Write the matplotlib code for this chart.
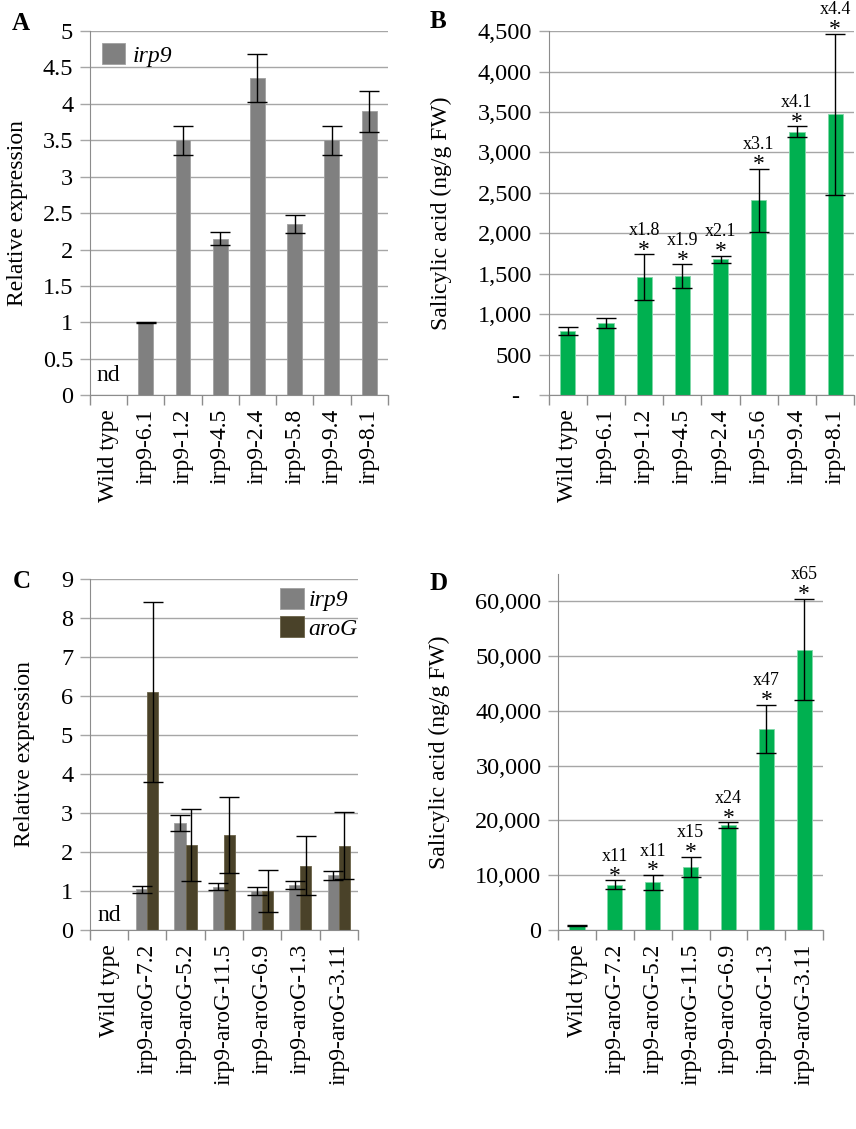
import matplotlib
matplotlib.use('Agg')
import matplotlib.pyplot as plt
from matplotlib.ticker import FuncFormatter
import numpy as np

plt.rcParams['font.family'] = 'serif'
plt.rcParams['font.serif'] = ['Liberation Serif', 'DejaVu Serif']
plt.rcParams['font.size'] = 16.5

# panel A - irp9 expression
lines_a = ['Wild type', 'irp9-6.1', 'irp9-1.2', 'irp9-4.5', 'irp9-2.4', 'irp9-5.8', 'irp9-9.4', 'irp9-8.1']
irp9_a = [np.nan, 1.0, 3.5, 2.15, 4.35, 2.35, 3.5, 3.9]
irp9_a_err = [np.nan, 0.01, 0.2, 0.09, 0.33, 0.13, 0.2, 0.28]

# panel B - salicylic acid
lines_b = ['Wild type', 'irp9-6.1', 'irp9-1.2', 'irp9-4.5', 'irp9-2.4', 'irp9-5.6', 'irp9-9.4', 'irp9-8.1']
sa_b = [790, 890, 1460, 1470, 1680, 2410, 3255, 3470]
sa_b_err = [50, 60, 280, 145, 43, 390, 68, 995]
fold_b = ['', '', 'x1.8', 'x1.9', 'x2.1', 'x3.1', 'x4.1', 'x4.4']

# panel C - irp9 and aroG expression
lines_c = ['Wild type', 'irp9-aroG-7.2', 'irp9-aroG-5.2', 'irp9-aroG-11.5', 'irp9-aroG-6.9', 'irp9-aroG-1.3', 'irp9-aroG-3.11']
irp9_c = [np.nan, 1.04, 2.74, 1.11, 0.99, 1.16, 1.40]
irp9_c_err = [np.nan, 0.09, 0.21, 0.09, 0.1, 0.1, 0.12]
arog_c = [np.nan, 6.1, 2.18, 2.44, 1.0, 1.65, 2.16]
arog_c_err = [np.nan, 2.3, 0.92, 0.98, 0.53, 0.75, 0.86]

# panel D - salicylic acid
sa_d = [790, 8250, 8680, 11550, 19150, 36700, 51200]
sa_d_err = [100, 850, 1350, 1800, 500, 4400, 9300]
fold_d = ['', 'x11', 'x11', 'x15', 'x24', 'x47', 'x65']

grey = '#808080'
olive = '#4a4229'
green = '#00b050'
gridc = '#a6a6a6'
spinec = '#8c8c8c'


def style(ax, labels):
    n = len(labels)
    ax.set_xlim(-0.5, n - 0.5)
    ax.set_xticks(range(n))
    ax.set_xticklabels(labels, rotation=90)
    ax.set_xticks(np.arange(-0.5, n), minor=True)
    ax.tick_params(axis='x', which='major', length=0, pad=10, labelsize=17)
    ax.tick_params(axis='x', which='minor', length=7, color=spinec, width=1)
    ax.tick_params(axis='y', length=7, color=gridc, width=1, pad=5, labelsize=17.5)
    ax.yaxis.grid(True, color=gridc, lw=1)
    ax.set_axisbelow(True)
    for s in ['top', 'right']:
        ax.spines[s].set_visible(False)
    ax.spines['left'].set_color(spinec)
    ax.spines['bottom'].set_color(spinec)


def stars(ax, means, errs, folds):
    for i, (m, e, f) in enumerate(zip(means, errs, folds)):
        if f == '':
            continue
        ax.annotate('*', xy=(i, m + e), xytext=(0, -1), textcoords='offset points',
                    ha='center', va='baseline', fontsize=17, annotation_clip=False)
        ax.annotate(f, xy=(i, m + e), xytext=(0, 14), textcoords='offset points',
                    ha='center', va='baseline', fontsize=13, annotation_clip=False)


fig = plt.figure(figsize=(8.56, 11.29), dpi=100)
leg_font = {'family': 'serif', 'style': 'italic', 'size': 17}

# A
ax = fig.add_axes([0.105, 0.650, 0.348, 0.3225])
x = np.arange(len(lines_a))
ax.bar(x, irp9_a, 0.4, color=grey, edgecolor='#a0a0a0', lw=0.6, label='irp9')
ax.errorbar(x, irp9_a, yerr=irp9_a_err, fmt='none', ecolor='black', elinewidth=1, capsize=7)
ax.set_ylim(0, 5)
ax.set_yticks(np.arange(0, 5.01, 0.5))
ax.yaxis.set_major_formatter(FuncFormatter(lambda v, p: f'{v:g}'))
style(ax, lines_a)
ax.set_ylabel('Relative expression', fontsize=17)
ax.yaxis.set_label_coords(-0.208, 0.5)
ax.text(0, 0.12, 'nd', ha='center', va='bottom', fontsize=17)
ax.legend(loc='upper left', frameon=False, prop=leg_font, borderpad=0.2,
          handlelength=1.0, handleheight=1.0, handletextpad=0.3, borderaxespad=0.3)

# B
ax = fig.add_axes([0.641, 0.650, 0.357, 0.3225])
x = np.arange(len(lines_b))
ax.bar(x, sa_b, 0.4, color=green, edgecolor='#80d8a8', lw=0.6)
ax.errorbar(x, sa_b, yerr=sa_b_err, fmt='none', ecolor='black', elinewidth=1, capsize=7)
ax.set_ylim(0, 4500)
ax.set_yticks(np.arange(0, 4501, 500))
ax.yaxis.set_major_formatter(FuncFormatter(lambda v, p: '-  ' if v == 0 else f'{v:,.0f}'))
style(ax, lines_b)
ax.set_ylabel('Salicylic acid (ng/g FW)', fontsize=17)
ax.yaxis.set_label_coords(-0.317, 0.5)
stars(ax, sa_b, sa_b_err, fold_b)

# C
ax = fig.add_axes([0.105, 0.1763, 0.313, 0.3109])
x = np.arange(len(lines_c))
w = 0.29
ax.bar(x - w / 2, irp9_c, w, color=grey, edgecolor='#a0a0a0', lw=0.6, label='irp9')
ax.bar(x + w / 2, arog_c, w, color=olive, edgecolor='#6a6248', lw=0.6, label='aroG')
ax.errorbar(x - w / 2, irp9_c, yerr=irp9_c_err, fmt='none', ecolor='black', elinewidth=1, capsize=7)
ax.errorbar(x + w / 2, arog_c, yerr=arog_c_err, fmt='none', ecolor='black', elinewidth=1, capsize=7)
ax.set_ylim(0, 9)
ax.set_yticks(range(10))
style(ax, lines_c)
ax.set_ylabel('Relative expression', fontsize=17)
ax.yaxis.set_label_coords(-0.205, 0.5)
ax.text(0, 0.1, 'nd', ha='center', va='bottom', fontsize=17)
ax.legend(loc='upper right', bbox_to_anchor=(1.0, 0.975), frameon=False, prop=leg_font,
          borderpad=0.0, handlelength=1.0, handleheight=1.0, handletextpad=0.2,
          borderaxespad=0.0, labelspacing=0.2)

# D
ax = fig.add_axes([0.652, 0.1763, 0.3096, 0.3153])
x = np.arange(len(lines_c))
ax.bar(x, sa_d, 0.4, color=green, edgecolor='#80d8a8', lw=0.6)
ax.errorbar(x, sa_d, yerr=sa_d_err, fmt='none', ecolor='black', elinewidth=1, capsize=7)
ax.set_ylim(0, 65000)
ax.set_yticks(np.arange(0, 60001, 10000))
ax.yaxis.set_major_formatter(FuncFormatter(lambda v, p: f'{v:,.0f}'))
style(ax, lines_c)
ax.set_ylabel('Salicylic acid (ng/g FW)', fontsize=17)
ax.yaxis.set_label_coords(-0.408, 0.5)
stars(ax, sa_d, sa_d_err, fold_d)

for lab, px, py in [('A', 12, 30), ('B', 430, 28), ('C', 13, 588), ('D', 430, 590)]:
    fig.text(px / 856, 1 - py / 1129, lab, fontsize=18, fontweight='bold', ha='left', va='baseline')

fig.savefig('out.png', dpi=100)
